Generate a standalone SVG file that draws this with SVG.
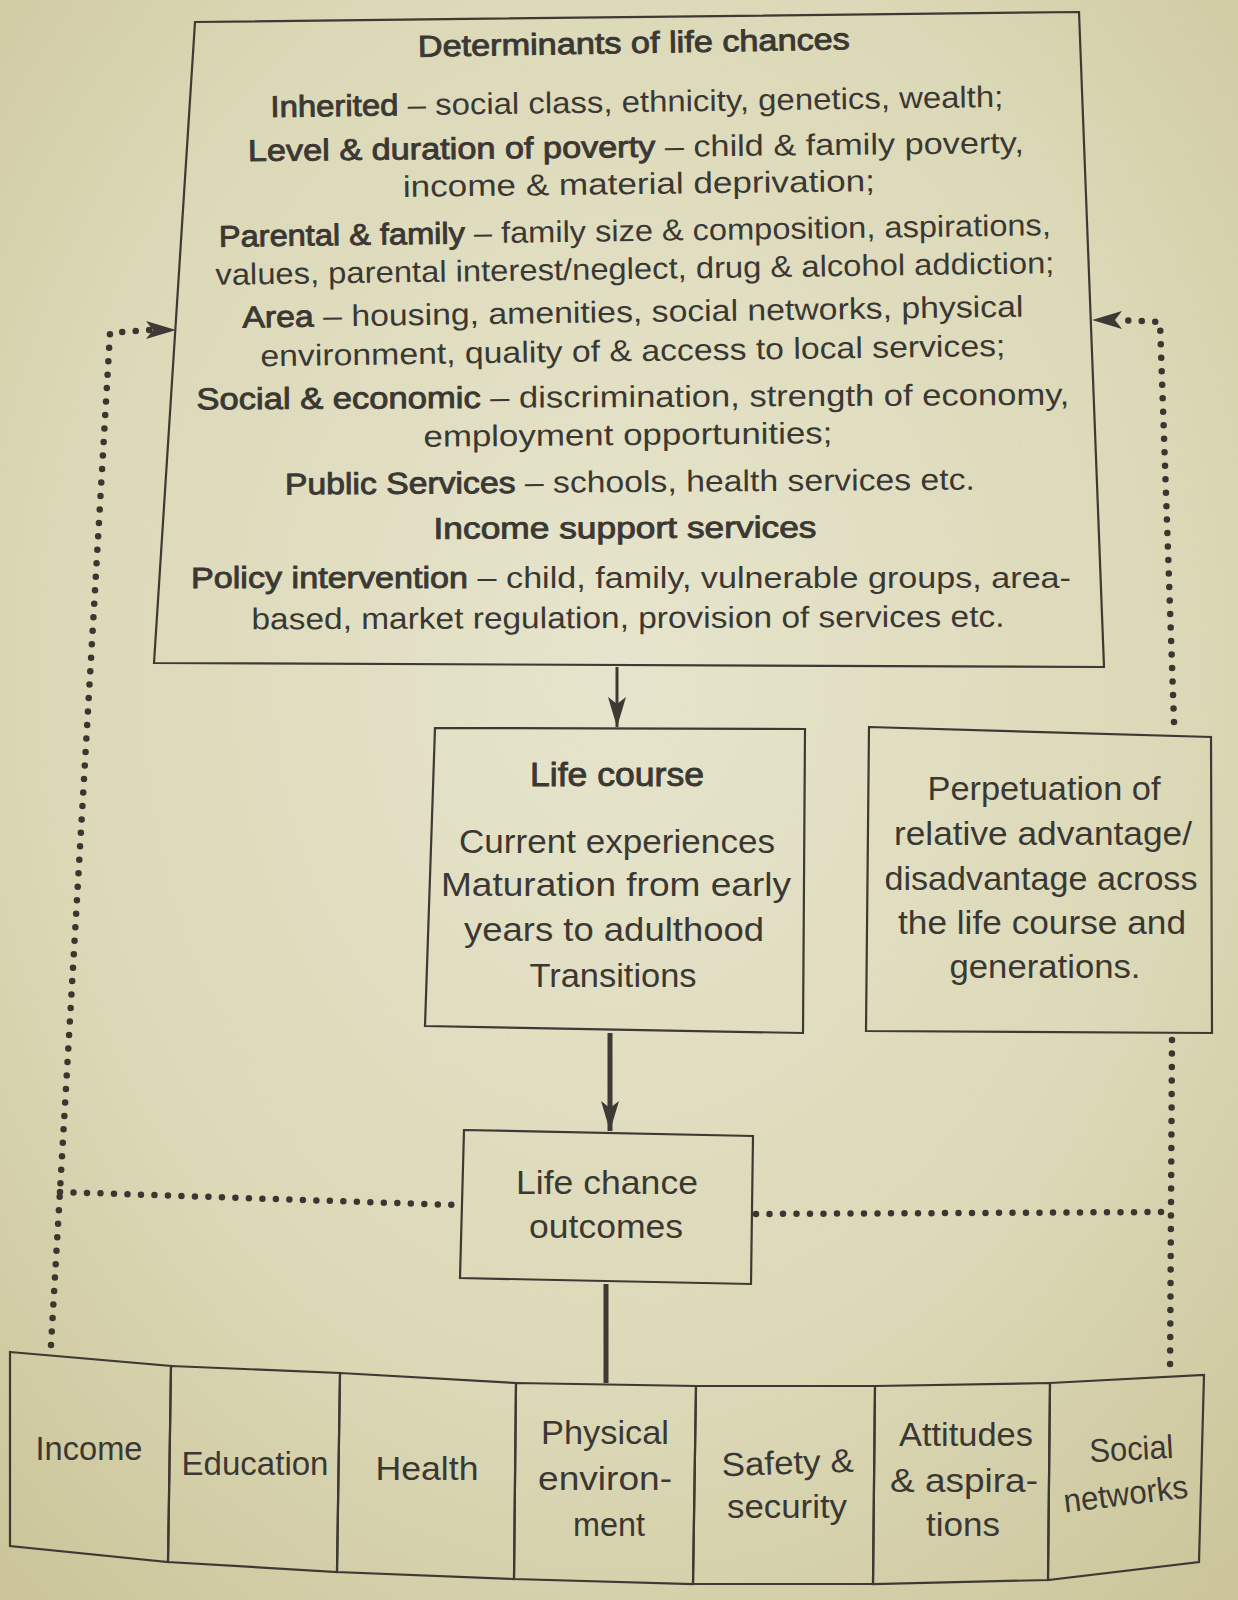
<svg xmlns="http://www.w3.org/2000/svg" width="1238" height="1600" viewBox="0 0 1238 1600">
<defs>
<radialGradient id="paper" cx="50%" cy="42%" r="75%">
<stop offset="0" stop-color="#e6e4cc"/>
<stop offset="0.6" stop-color="#dcd9b8"/>
<stop offset="1" stop-color="#cbc599"/>
</radialGradient>
<marker id="arrow" markerUnits="userSpaceOnUse" markerWidth="30" markerHeight="18" refX="30" refY="9" orient="auto">
<path d="M0,0 L30,9 L0,18 L7,9 z" fill="#3d3934"/>
</marker>
<style>
text{font-family:"Liberation Sans",Arial,sans-serif;fill:#3b3833;text-anchor:middle}
.t{font-size:30px}
.m{font-size:33px}
.b{stroke:#3b3833;stroke-width:0.9px}
.box{fill:none;stroke:#3d3934;stroke-width:2.2}
.solid{fill:none;stroke:#3d3934;stroke-width:5}
.dot{fill:none;stroke:#3a3631;stroke-width:6.5;stroke-linecap:round;stroke-dasharray:0 13.5}
</style>
</defs>
<rect width="1238" height="1600" fill="url(#paper)"/>

<g id="connectors">
<line x1="617" y1="667" x2="617" y2="727" class="solid" style="stroke-width:3" marker-end="url(#arrow)"/>
<line x1="610" y1="1033" x2="610" y2="1131" class="solid" marker-end="url(#arrow)"/>
<line x1="606" y1="1284" x2="606" y2="1383" class="solid"/>
<path class="dot" d="M51,1345 L110,333 L150,330"/>
<path d="M150,330 L176,330" fill="none" stroke="none" marker-end="url(#arrow)"/>
<path class="dot" d="M60,1192 L456,1205"/>
<path class="dot" d="M1174,722 L1160,322 L1120,320"/>
<path d="M1120,320 L1092,320" fill="none" stroke="none" marker-end="url(#arrow)"/>
<path class="dot" d="M1172,1040 L1170,1376"/>
<path class="dot" d="M756,1214 L1170,1212"/>
</g>

<g id="determinants">
<polygon class="box" points="195,22 1079,12 1104,667 154,663"/>
<text class="t b" x="634" y="53" textLength="432" lengthAdjust="spacingAndGlyphs" transform="rotate(-1 634 53)">Determinants of life chances</text>
<text class="t" x="637" y="112" textLength="733" lengthAdjust="spacingAndGlyphs" transform="rotate(-0.8 637 112)"><tspan class="b">Inherited</tspan> – social class, ethnicity, genetics, wealth;</text>
<text class="t" x="636" y="157" textLength="776" lengthAdjust="spacingAndGlyphs" transform="rotate(-0.6 636 157)"><tspan class="b">Level &amp; duration of poverty</tspan> – child &amp; family poverty,</text>
<text class="t" x="639" y="194" textLength="472" lengthAdjust="spacingAndGlyphs" transform="rotate(-0.7 639 194)">income &amp; material deprivation;</text>
<text class="t" x="635" y="241" textLength="832" lengthAdjust="spacingAndGlyphs" transform="rotate(-0.8 635 241)"><tspan class="b">Parental &amp; family</tspan> – family size &amp; composition, aspirations,</text>
<text class="t" x="635" y="279" textLength="839" lengthAdjust="spacingAndGlyphs" transform="rotate(-0.8 635 279)">values, parental interest/neglect, drug &amp; alcohol addiction;</text>
<text class="t" x="633" y="322" textLength="781" lengthAdjust="spacingAndGlyphs" transform="rotate(-0.8 633 322)"><tspan class="b">Area</tspan> – housing, amenities, social networks, physical</text>
<text class="t" x="633" y="361" textLength="745" lengthAdjust="spacingAndGlyphs" transform="rotate(-0.8 633 361)">environment, quality of &amp; access to local services;</text>
<text class="t" x="633" y="407" textLength="873" lengthAdjust="spacingAndGlyphs" transform="rotate(-0.3 633 407)"><tspan class="b">Social &amp; economic</tspan> – discrimination, strength of economy,</text>
<text class="t" x="628" y="445" textLength="409" lengthAdjust="spacingAndGlyphs" transform="rotate(-0.5 628 445)">employment opportunities;</text>
<text class="t" x="630" y="492" textLength="690" lengthAdjust="spacingAndGlyphs" transform="rotate(-0.4 630 492)"><tspan class="b">Public Services</tspan> – schools, health services etc.</text>
<text class="t b" x="625" y="538" textLength="383" lengthAdjust="spacingAndGlyphs" transform="rotate(-0.2 625 538)">Income support services</text>
<text class="t" x="631" y="588" textLength="880" lengthAdjust="spacingAndGlyphs"><tspan class="b">Policy intervention</tspan> – child, family, vulnerable groups, area-</text>
<text class="t" x="628" y="628" textLength="753" lengthAdjust="spacingAndGlyphs" transform="rotate(-0.2 628 628)">based, market regulation, provision of services etc.</text>
</g>

<g id="life-course">
<polygon class="box" points="435,728 805,729 803,1033 425,1026"/>
<text class="m b" x="617" y="786" textLength="174" lengthAdjust="spacingAndGlyphs">Life course</text>
<text class="m" x="617" y="853" textLength="316" lengthAdjust="spacingAndGlyphs">Current experiences</text>
<text class="m" x="616" y="896" textLength="350" lengthAdjust="spacingAndGlyphs">Maturation from early</text>
<text class="m" x="614" y="941" textLength="300" lengthAdjust="spacingAndGlyphs">years to adulthood</text>
<text class="m" x="613" y="987" textLength="167" lengthAdjust="spacingAndGlyphs">Transitions</text>
</g>

<g id="perpetuation">
<polygon class="box" points="869,727 1211,737 1212,1033 866,1031"/>
<text class="m" x="1044" y="800" textLength="233" lengthAdjust="spacingAndGlyphs">Perpetuation of</text>
<text class="m" x="1043" y="845" textLength="298" lengthAdjust="spacingAndGlyphs">relative advantage/</text>
<text class="m" x="1041" y="890" textLength="313" lengthAdjust="spacingAndGlyphs">disadvantage across</text>
<text class="m" x="1042" y="934" textLength="288" lengthAdjust="spacingAndGlyphs">the life course and</text>
<text class="m" x="1045" y="978" textLength="191" lengthAdjust="spacingAndGlyphs">generations.</text>
</g>

<g id="outcomes">
<polygon class="box" points="464,1130 753,1136 751,1284 460,1278"/>
<text class="m" x="607" y="1194" textLength="182" lengthAdjust="spacingAndGlyphs">Life chance</text>
<text class="m" x="606" y="1238" textLength="154" lengthAdjust="spacingAndGlyphs">outcomes</text>
</g>

<g id="income">
<polygon class="box" points="10,1352 171,1366 168,1562 10,1546"/>
<text class="m" x="89" y="1460" textLength="107" lengthAdjust="spacingAndGlyphs">Income</text>
</g>
<g id="education">
<polygon class="box" points="171,1366 340,1373 337,1572 168,1562"/>
<text class="m" x="255" y="1475" textLength="147" lengthAdjust="spacingAndGlyphs">Education</text>
</g>
<g id="health">
<polygon class="box" points="340,1373 516,1383 514,1579 337,1572"/>
<text class="m" x="427" y="1480" textLength="103" lengthAdjust="spacingAndGlyphs">Health</text>
</g>
<g id="physical-environment">
<polygon class="box" points="516,1383 696,1386 693,1584 514,1579"/>
<text class="m" x="605" y="1444" textLength="128" lengthAdjust="spacingAndGlyphs">Physical</text>
<text class="m" x="605" y="1490" textLength="134" lengthAdjust="spacingAndGlyphs">environ-</text>
<text class="m" x="609" y="1536" textLength="72" lengthAdjust="spacingAndGlyphs">ment</text>
</g>
<g id="safety-security">
<polygon class="box" points="696,1386 875,1386 873,1584 693,1584"/>
<text class="m" x="788" y="1474" textLength="132" lengthAdjust="spacingAndGlyphs" transform="rotate(-2 788 1474)">Safety &amp;</text>
<text class="m" x="787" y="1518" textLength="120" lengthAdjust="spacingAndGlyphs">security</text>
</g>
<g id="attitudes-aspirations">
<polygon class="box" points="875,1386 1050,1383 1048,1580 873,1584"/>
<text class="m" x="966" y="1446" textLength="134" lengthAdjust="spacingAndGlyphs">Attitudes</text>
<text class="m" x="964" y="1492" textLength="148" lengthAdjust="spacingAndGlyphs">&amp; aspira-</text>
<text class="m" x="963" y="1536" textLength="74" lengthAdjust="spacingAndGlyphs">tions</text>
</g>
<g id="social-networks">
<polygon class="box" points="1050,1383 1204,1375 1199,1562 1048,1580"/>
<text class="m" x="1132" y="1460" textLength="84" lengthAdjust="spacingAndGlyphs" transform="rotate(-3 1132 1460)">Social</text>
<text class="m" x="1127" y="1505" textLength="125" lengthAdjust="spacingAndGlyphs" transform="rotate(-7 1127 1505)">networks</text>
</g>
</svg>
